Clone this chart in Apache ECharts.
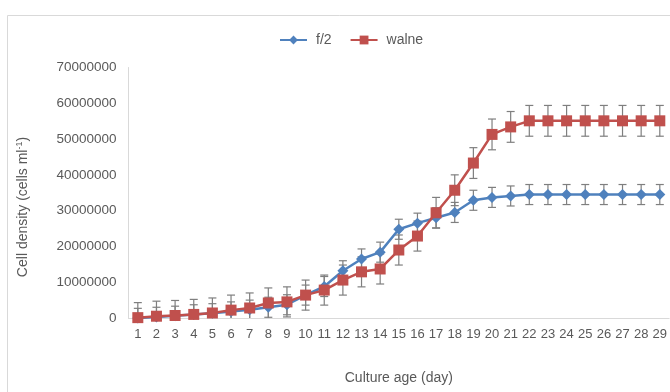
<!DOCTYPE html>
<html>
<head>
<meta charset="utf-8">
<script src="https://cdn.jsdelivr.net/npm/echarts@6/dist/echarts.min.js"></script>
<style>html,body{margin:0;padding:0;background:#fff;}#c{width:670px;height:392px;}</style>
</head>
<body>
<div id="c"></div>
<script>
var days = ['1','2','3','4','5','6','7','8','9','10','11','12','13','14','15','16','17','18','19','20','21','22','23','24','25','26','27','28','29'];
var f2 = [0, 300000, 600000, 1000000, 1300000, 1800000, 2300000, 3000000, 3700000, 6400000, 8800000, 13200000, 16500000, 18400000, 24800000, 26500000, 28000000, 29500000, 32900000, 33700000, 34100000, 34500000, 34500000, 34500000, 34500000, 34500000, 34500000, 34500000, 34500000];
var walne = [100000, 500000, 700000, 1000000, 1400000, 2200000, 2800000, 4200000, 4500000, 6400000, 7800000, 10600000, 12900000, 13700000, 19000000, 22900000, 29400000, 35700000, 43300000, 51300000, 53400000, 55100000, 55100000, 55100000, 55100000, 55100000, 55100000, 55100000, 55100000];
var f2Err = [2700000, 2700000, 2700000, 2700000, 2700000, 2700000, 2700000, 2800000, 2800000, 2800000, 2800000, 2800000, 2800000, 2800000, 2800000, 2800000, 2800000, 2800000, 2800000, 2800000, 2800000, 2800000, 2800000, 2800000, 2800000, 2800000, 2800000, 2800000, 2800000];
var walneErr = [4200000, 4200000, 4200000, 4200000, 4200000, 4200000, 4200000, 4200000, 4200000, 4200000, 4200000, 4200000, 4200000, 4200000, 4200000, 4200000, 4300000, 4300000, 4300000, 4300000, 4300000, 4300000, 4300000, 4300000, 4300000, 4300000, 4300000, 4300000, 4300000];
var yTicks = [0, 10000000, 20000000, 30000000, 40000000, 50000000, 60000000, 70000000];

function errData(vals, errs) {
  return vals.map(function (v, i) { return [i, v, errs[i]]; });
}
function errRender(params, api) {
  var i = api.value(0), v = api.value(1), e = api.value(2);
  var lo = Math.max(0, v - e), hi = v + e;
  var pHi = api.coord([i, hi]);
  var pLo = api.coord([i, lo]);
  var cap = 4;
  var st = { stroke: '#7f7f7f', lineWidth: 1.2 };
  var children = [
    { type: 'line', shape: { x1: pHi[0], y1: pHi[1], x2: pLo[0], y2: pLo[1] }, style: st },
    { type: 'line', shape: { x1: pHi[0] - cap, y1: pHi[1], x2: pHi[0] + cap, y2: pHi[1] }, style: st }
  ];
  if (v - e > 0) {
    children.push({ type: 'line', shape: { x1: pLo[0] - cap, y1: pLo[1], x2: pLo[0] + cap, y2: pLo[1] }, style: st });
  }
  return { type: 'group', children: children };
}

var chart = echarts.init(document.getElementById('c'));
var txt = '#595959';
var font = 'Liberation Sans, Arial, sans-serif';
chart.setOption({
  animation: false,
  textStyle: { fontFamily: font },
  graphic: [
    { type: 'rect', shape: { x: 7.5, y: 15.5, width: 700, height: 400 }, style: { fill: 'none', stroke: '#d9d9d9', lineWidth: 1 }, z: -10 },
    { type: 'text', x: 23, y: 207, rotation: Math.PI / 2,
      style: { text: '{a|Cell density (cells ml}{s|-1}{a|)}', align: 'center', verticalAlign: 'middle',
        rich: { a: { fontSize: 14, fill: txt, fontFamily: font }, s: { fontSize: 9, fill: txt, fontFamily: font, verticalAlign: 'top', padding: [0, 0, 6, 0] } } } }
  ],
  legend: {
    top: 28, left: 274,
    itemWidth: 27, itemHeight: 11, itemGap: 18,
    textStyle: { color: txt, fontSize: 14, fontFamily: font, padding: [0, 0, 0, 4] },
    data: ['f/2', 'walne']
  },
  grid: { left: 128.5, right: -1, top: 67.5, bottom: 74, containLabel: false },
  xAxis: {
    type: 'category', data: days, boundaryGap: true,
    name: 'Culture age (day)', nameLocation: 'middle', nameGap: 53,
    nameTextStyle: { color: txt, fontSize: 14, fontFamily: font },
    axisLine: { lineStyle: { color: '#d9d9d9', width: 1 } },
    axisTick: { show: false },
    axisLabel: { interval: 0, color: txt, fontSize: 13, margin: 10, fontFamily: font }
  },
  yAxis: {
    type: 'value', min: 0, max: 70000000, interval: 10000000,
    axisLine: { show: true, lineStyle: { color: '#d9d9d9', width: 1 } },
    axisTick: { show: false },
    splitLine: { show: false },
    axisLabel: { color: txt, fontSize: 13.5, margin: 12, fontFamily: font,
      formatter: function (v) { return yTicks.indexOf(v) >= 0 ? String(v) : ''; } }
  },
  series: [
    { type: 'custom', name: 'f2err', renderItem: errRender, data: errData(f2, f2Err), z: 1, silent: true, encode: { x: 0, y: 1 } },
    { type: 'custom', name: 'walneerr', renderItem: errRender, data: errData(walne, walneErr), z: 1, silent: true, encode: { x: 0, y: 1 } },
    { type: 'line', name: 'f/2', data: f2, symbol: 'diamond', symbolSize: 11, z: 3,
      itemStyle: { color: '#4F81BD' }, lineStyle: { color: '#4F81BD', width: 2.5 } },
    { type: 'line', name: 'walne', data: walne, symbol: 'rect', symbolSize: 11, z: 4,
      itemStyle: { color: '#C0504D' }, lineStyle: { color: '#C0504D', width: 2.5 } }
  ]
});
</script>
</body>
</html>
